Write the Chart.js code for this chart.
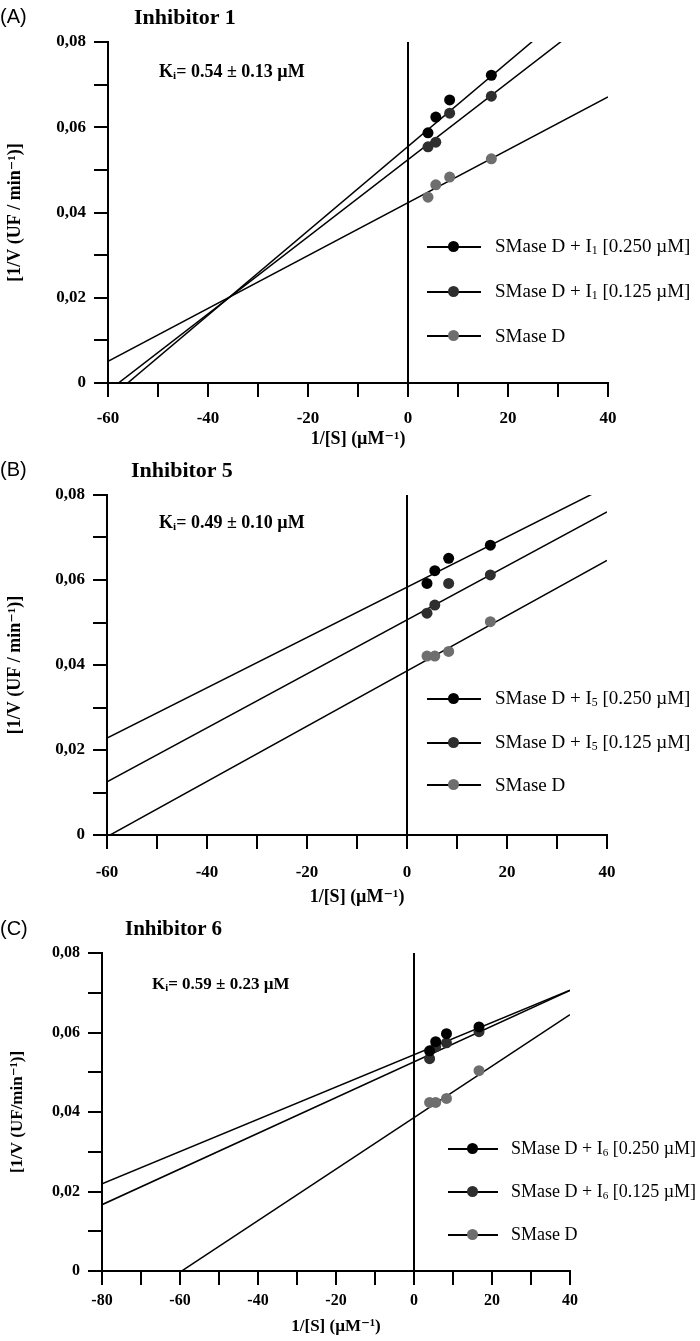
<!DOCTYPE html>
<html>
<head>
<meta charset="utf-8">
<script src="https://cdn.jsdelivr.net/npm/chart.js@4.4.0/dist/chart.umd.min.js"></script>
<style>
body { margin: 0; width: 700px; height: 1341px; position: relative; background: #fff; overflow: hidden; }
.box { position: absolute; left: 0; width: 700px; }
.t { position: absolute; white-space: nowrap; line-height: 1; color: #000; }
.lab { font: 20px "Liberation Sans", Arial, sans-serif; }
.ttl { font: bold 22px "Liberation Serif", "Times New Roman", serif; }
.ki { font: bold 18px "Liberation Serif", "Times New Roman", serif; }
.leg { font: 19px "Liberation Serif", "Times New Roman", serif; display: flex; align-items: center; }
.leg .sw { position: relative; width: 54px; height: 12px; margin-right: 14px; }
.leg .sw:before { content: ""; position: absolute; left: 0; right: 0; top: 5px; border-top: 2px solid #000; }
.leg .sw i { position: absolute; left: 21px; top: 0; width: 11px; height: 11px; border-radius: 50%; }
sub { font-size: 62%; vertical-align: -0.2em; }
</style>
</head>
<body>

<div class="box" style="top:0;height:450px"><canvas id="chartA" width="700" height="450"></canvas></div>
<div class="box" style="top:450px;height:460px"><canvas id="chartB" width="700" height="460"></canvas></div>
<div class="box" style="top:910px;height:431px"><canvas id="chartC" width="700" height="431"></canvas></div>

<div class="t lab" style="left:0;top:5px">(A)</div>
<div class="t ttl" style="left:134px;top:4px">Inhibitor 1</div>
<div class="t ki" style="left:159px;top:61px">K<sub>i</sub>= 0.54 ± 0.13 µM</div>
<div class="t leg" style="left:427px;top:235px"><span class="sw"><i style="background:#000"></i></span><span>SMase D + I<sub>1</sub> [0.250 µM]</span></div>
<div class="t leg" style="left:427px;top:280px"><span class="sw"><i style="background:#2e2e2e"></i></span><span>SMase D + I<sub>1</sub> [0.125 µM]</span></div>
<div class="t leg" style="left:427px;top:325px"><span class="sw"><i style="background:#6e6e6e"></i></span><span>SMase D</span></div>

<div class="t lab" style="left:0;top:458px">(B)</div>
<div class="t ttl" style="left:131px;top:457px">Inhibitor 5</div>
<div class="t ki" style="left:159px;top:512px">K<sub>i</sub>= 0.49 ± 0.10 µM</div>
<div class="t leg" style="left:427px;top:687px"><span class="sw"><i style="background:#000"></i></span><span>SMase D + I<sub>5</sub> [0.250 µM]</span></div>
<div class="t leg" style="left:427px;top:731px"><span class="sw"><i style="background:#2e2e2e"></i></span><span>SMase D + I<sub>5</sub> [0.125 µM]</span></div>
<div class="t leg" style="left:427px;top:774px"><span class="sw"><i style="background:#6e6e6e"></i></span><span>SMase D</span></div>

<div class="t lab" style="left:0;top:917px">(C)</div>
<div class="t ttl" style="left:125px;top:916px;font-size:21px">Inhibitor 6</div>
<div class="t ki" style="left:152px;top:974px;font-size:17px">K<sub>i</sub>= 0.59 ± 0.23 µM</div>
<div class="t leg" style="left:448px;top:1138px;font-size:18px"><span class="sw" style="width:50px;margin-right:13px"><i style="background:#000;left:19px"></i></span><span>SMase D + I<sub>6</sub> [0.250 µM]</span></div>
<div class="t leg" style="left:448px;top:1181px;font-size:18px"><span class="sw" style="width:50px;margin-right:13px"><i style="background:#2e2e2e;left:19px"></i></span><span>SMase D + I<sub>6</sub> [0.125 µM]</span></div>
<div class="t leg" style="left:448px;top:1224px;font-size:18px"><span class="sw" style="width:50px;margin-right:13px"><i style="background:#6e6e6e;left:19px"></i></span><span>SMase D</span></div>

<script>
// 1/[S] values (µM-1), same in all three panels
var invS = [4, 5.56, 8.33, 16.67];

// panel A - inhibitor 1 : 1/V values
var a250 = [0.0587, 0.0624, 0.0664, 0.0722];
var a125 = [0.0554, 0.0565, 0.0633, 0.0673];
var aCtl = [0.0436, 0.0465, 0.0483, 0.0526];
// fitted lines [0.250, 0.125, control]
var aSlope = [0.00099, 0.000905, 0.00062];
var aIcpt = [0.0555, 0.0524, 0.0423];

// panel B - inhibitor 5
var b250 = [0.0592, 0.0622, 0.0651, 0.0682];
var b125 = [0.0522, 0.0541, 0.0592, 0.0612];
var bCtl = [0.0421, 0.0421, 0.0432, 0.0502];
var bSlope = [0.000592, 0.000635, 0.00065];
var bIcpt = [0.0583, 0.0506, 0.0386];

// panel C - inhibitor 6
var c250 = [0.0554, 0.0577, 0.0597, 0.0614];
var c125 = [0.0534, 0.0564, 0.0574, 0.0602];
var cCtl = [0.0424, 0.0424, 0.0434, 0.0504];
var cSlope = [0.000406, 0.000449, 0.000648];
var cIcpt = [0.0544, 0.0526, 0.0386];

var dotColors = ["#000000", "#2e2e2e", "#6e6e6e"];
var serif = '"Liberation Serif", "Times New Roman", "DejaVu Serif", serif';

// vertical line at 1/[S] = 0
var zeroLine = {
    id: 'zeroLine',
    beforeDatasetsDraw: function (chart) {
        var ctx = chart.ctx, area = chart.chartArea;
        var x = chart.scales.x.getPixelForValue(0);
        ctx.save();
        ctx.strokeStyle = '#000';
        ctx.lineWidth = 2;
        ctx.beginPath();
        ctx.moveTo(x, area.top);
        ctx.lineTo(x, area.bottom);
        ctx.stroke();
        ctx.restore();
    }
};

function makeChart(id, p) {
    var ser = [p.s250, p.s125, p.ctl];
    var datasets = [];
    for (var i = 0; i < 3; i++) {
        var pts = invS.map(function (x, j) { return { x: x, y: ser[i][j] }; });
        datasets.push({
            data: pts, showLine: false, pointRadius: p.dot, pointHoverRadius: p.dot,
            backgroundColor: dotColors[i], borderColor: dotColors[i], borderWidth: 0, order: 1
        });
        datasets.push({
            type: 'line',
            data: [
                { x: p.xMin, y: p.icpt[i] + p.slope[i] * p.xMin },
                { x: p.xMax, y: p.icpt[i] + p.slope[i] * p.xMax }
            ],
            borderColor: '#000', borderWidth: 1.5, pointRadius: 0, fill: false, order: 2
        });
    }

    var tickFont = { family: serif, weight: 'bold', size: p.fs };
    var titleFont = { family: serif, weight: 'bold', size: p.fs + 1 };

    return new Chart(document.getElementById(id), {
        type: 'scatter',
        data: { datasets: datasets },
        options: {
            responsive: false,
            animation: false,
            layout: { padding: { top: p.top, right: 700 - p.right, left: 0, bottom: 0 } },
            plugins: { legend: { display: false }, tooltip: { enabled: false } },
            scales: {
                x: {
                    type: 'linear', min: p.xMin, max: p.xMax,
                    ticks: {
                        stepSize: 10, autoSkip: false, maxRotation: 0, color: '#000',
                        font: tickFont, padding: p.xPad,
                        callback: function (v) { return v % 20 === 0 ? String(v) : ''; }
                    },
                    grid: { drawOnChartArea: false, drawTicks: true, tickLength: 14, color: '#000', lineWidth: 2 },
                    border: { display: true, color: '#000', width: 2 },
                    title: { display: true, text: '1/[S] (µM⁻¹)', color: '#000', font: titleFont, padding: { top: 0, bottom: p.xtPad } },
                    afterFit: function (s) { s.height = p.axisH; }
                },
                y: {
                    type: 'linear', min: 0, max: 0.08,
                    ticks: {
                        stepSize: 0.01, autoSkip: false, color: '#000', font: tickFont, padding: 8,
                        callback: function (v) {
                            var k = Math.round(v * 100);
                            if (k % 2 !== 0) return '';
                            return k === 0 ? '0' : (k / 100).toFixed(2).replace('.', ',');
                        }
                    },
                    grid: { drawOnChartArea: false, drawTicks: true, tickLength: 14, color: '#000', lineWidth: 2 },
                    border: { display: true, color: '#000', width: 2 },
                    title: { display: true, text: p.yTitle, color: '#000', font: titleFont, padding: { top: p.ytPad, bottom: 0 } },
                    afterFit: function (s) { s.width = p.left; }
                }
            }
        },
        plugins: [zeroLine]
    });
}

makeChart('chartA', {
    s250: a250, s125: a125, ctl: aCtl, slope: aSlope, icpt: aIcpt,
    xMin: -60, xMax: 40, top: 42, left: 108, right: 608, axisH: 67,
    xPad: 11, xtPad: 0, ytPad: 5, fs: 17, dot: 5.5, yTitle: '[1/V (UF / min⁻¹)]'
});
makeChart('chartB', {
    s250: b250, s125: b125, ctl: bCtl, slope: bSlope, icpt: bIcpt,
    xMin: -60, xMax: 40, top: 45, left: 107, right: 607, axisH: 75,
    xPad: 13, xtPad: 2, ytPad: 5, fs: 17, dot: 5.5, yTitle: '[1/V (UF / min⁻¹)]'
});
makeChart('chartC', {
    s250: c250, s125: c125, ctl: cCtl, slope: cSlope, icpt: cIcpt,
    xMin: -80, xMax: 40, top: 43, left: 102, right: 570, axisH: 70,
    xPad: 6, xtPad: 4, ytPad: 7, fs: 16, dot: 5.5, yTitle: '[1/V (UF/min⁻¹)]'
});
</script>
</body>
</html>
